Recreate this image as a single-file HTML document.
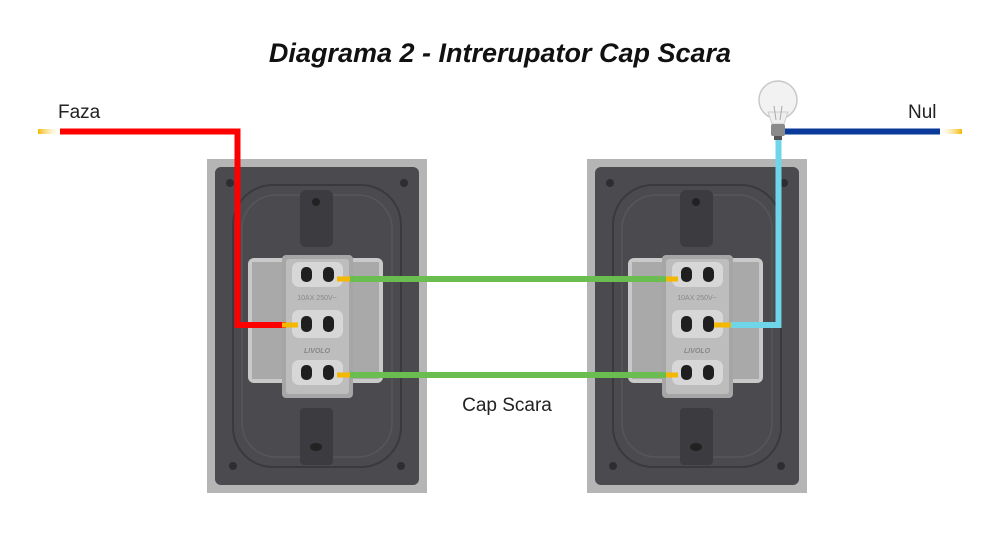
<!DOCTYPE html>
<html><head><meta charset="utf-8"><style>
html,body{margin:0;padding:0;background:#fff;width:1000px;height:544px;overflow:hidden}
svg{display:block}
text{font-family:"Liberation Sans",sans-serif}
</style></head><body>
<svg width="1000" height="544" viewBox="0 0 1000 544">
<defs>
<linearGradient id="ye" x1="0" x2="1"><stop offset="0" stop-color="#fff" stop-opacity="0"/><stop offset="1" stop-color="#f5b800"/></linearGradient>
<linearGradient id="ye2" x1="1" x2="0"><stop offset="0" stop-color="#fff" stop-opacity="0"/><stop offset="1" stop-color="#f5b800"/></linearGradient>
<g id="plate">
<rect x="207" y="159" width="220" height="334" fill="#b5b5b5"/>
<rect x="215" y="167" width="204" height="318" rx="6" fill="#4a4a4f"/>
<rect x="233" y="185" width="168" height="282" rx="40" fill="none" stroke="#3a3a3e" stroke-width="2"/>
<rect x="242" y="195" width="150" height="262" rx="34" fill="none" stroke="#56565b" stroke-width="1.5"/>
<circle cx="230" cy="183" r="4" fill="#2e2e32"/><circle cx="404" cy="183" r="4" fill="#2e2e32"/>
<circle cx="233" cy="466" r="4" fill="#2e2e32"/><circle cx="401" cy="466" r="4" fill="#2e2e32"/>
<rect x="300" y="190" width="33" height="57" rx="6" fill="#3c3c40"/>
<circle cx="316" cy="202" r="4" fill="#222"/>
<rect x="300" y="408" width="33" height="57" rx="4" fill="#3c3c40"/>
<ellipse cx="316" cy="447" rx="6" ry="4" fill="#222"/>
<rect x="248" y="258" width="135" height="125" rx="6" fill="#c9c9c9"/>
<rect x="252" y="262" width="30" height="117" fill="#a9a9a9"/>
<rect x="353" y="262" width="26" height="117" fill="#a9a9a9"/>
<rect x="282" y="255" width="71" height="143" rx="4" fill="#a6a6a6"/>
<rect x="286" y="259" width="63" height="135" rx="3" fill="#bdbdbd"/>
<rect x="292" y="262" width="51" height="25" rx="7" fill="#d7d7d7"/>
<rect x="292" y="310" width="51" height="28" rx="7" fill="#d7d7d7"/>
<rect x="292" y="360" width="51" height="25" rx="7" fill="#d7d7d7"/>
<g fill="#1f1f1f">
<rect x="301" y="267" width="11" height="15" rx="5"/><rect x="323" y="267" width="11" height="15" rx="5"/>
<rect x="301" y="316" width="11" height="16" rx="5"/><rect x="323" y="316" width="11" height="16" rx="5"/>
<rect x="301" y="365" width="11" height="15" rx="5"/><rect x="323" y="365" width="11" height="15" rx="5"/>
</g>
<text x="317" y="300" font-size="7" fill="#888" text-anchor="middle">10AX 250V~</text>
<text x="317" y="353" font-size="7" fill="#888" text-anchor="middle" font-style="italic" font-weight="bold">LIVOLO</text>
</g>
</defs>
<text x="500" y="62" font-size="27" font-weight="bold" font-style="italic" text-anchor="middle" fill="#111">Diagrama 2 - Intrerupator Cap Scara</text>
<use href="#plate"/>
<use href="#plate" transform="translate(380,0)"/>
<!-- Faza -->
<text x="58" y="118" font-size="19" fill="#222">Faza</text>
<rect x="38" y="129" width="24" height="5" fill="url(#ye2)"/>
<polyline points="60,131.5 237.5,131.5 237.5,325 286,325" fill="none" stroke="#f00" stroke-width="6"/>
<rect x="282" y="322.5" width="16" height="5" fill="#f5b800"/>
<!-- green -->
<rect x="337" y="276.5" width="16" height="5" fill="#f5b800"/>
<rect x="337" y="372.5" width="16" height="5" fill="#f5b800"/>
<rect x="662" y="276.5" width="16" height="5" fill="#f5b800"/>
<rect x="662" y="372.5" width="16" height="5" fill="#f5b800"/>
<line x1="350" y1="279" x2="666" y2="279" stroke="#6abd50" stroke-width="6"/>
<line x1="350" y1="375" x2="666" y2="375" stroke="#6abd50" stroke-width="6"/>
<text x="507" y="411" font-size="19" fill="#222" text-anchor="middle">Cap Scara</text>
<!-- Nul -->
<text x="908" y="118" font-size="19" fill="#222">Nul</text>
<rect x="938" y="129" width="24" height="5" fill="url(#ye)"/>
<line x1="783" y1="131.5" x2="940" y2="131.5" stroke="#0a3a9a" stroke-width="6"/>
<rect x="714" y="322.5" width="20" height="5" fill="#f5b800"/>
<polyline points="731,325 778.5,325 778.5,140" fill="none" stroke="#6fd6ea" stroke-width="6"/>
<!-- bulb -->
<circle cx="778" cy="100" r="19" fill="#f2f2f2" stroke="#c8c8c8" stroke-width="1.5"/>
<path d="M768,112 L772,124 L784,124 L788,112 Z" fill="#eee" stroke="#ccc"/>
<path d="M774,106 L776,120 M782,106 L780,120" stroke="#aaa" stroke-width="1" fill="none"/>
<rect x="771" y="124" width="14" height="12" rx="2" fill="#8a8a8a"/>
<rect x="774" y="136" width="8" height="4" fill="#555"/>
</svg>
</body></html>
